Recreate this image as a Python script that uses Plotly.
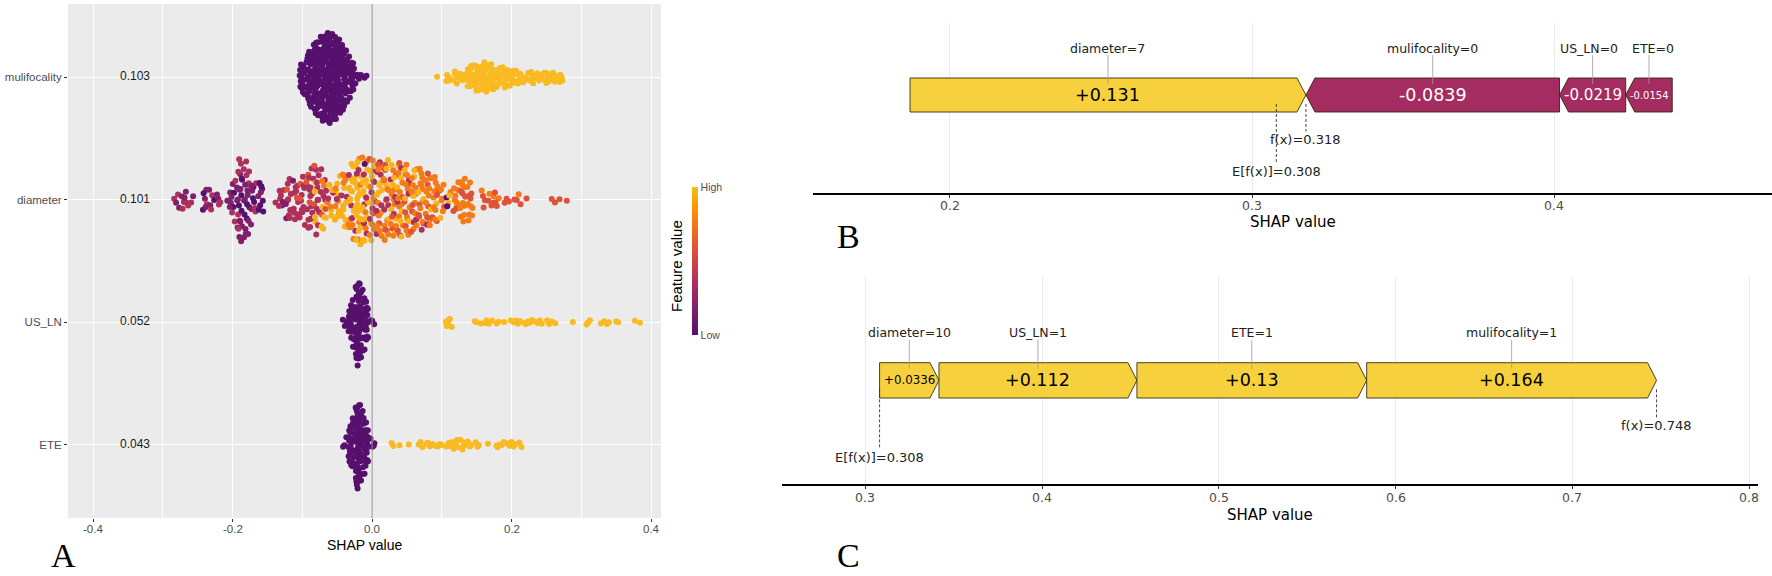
import numpy as np
import plotly.graph_objects as go

# ------------------------------------------------------------------
# DATA
# ------------------------------------------------------------------
# Panel A : SHAP summary (beeswarm).  Each feature is given as a histogram
# of SHAP values (bin centre, number of points).
FEATURES = ["mulifocality", "diameter", "US_LN", "ETE"]
MEAN_ABS_SHAP = [0.103, 0.101, 0.052, 0.043]
A_XTICKS = [-0.4, -0.2, 0.0, 0.2, 0.4]
A_XTICKTEXT = ["-0.4", "-0.2", "0.0", "0.2", "0.4"]
A_XMINOR = [-0.3, -0.1, 0.1, 0.3]

# mulifocality (binary): low = 0, high = 1
MULI_LOW_X = [-0.10, -0.09, -0.08, -0.07, -0.06, -0.05, -0.04, -0.03, -0.02, -0.01]
MULI_LOW_N = [16, 30, 40, 48, 50, 46, 34, 20, 5, 2]
MULI_HIGH_X = [0.09, 0.11, 0.12, 0.13, 0.14, 0.15, 0.16, 0.17, 0.18, 0.19,
               0.20, 0.21, 0.22, 0.23, 0.24, 0.25, 0.26, 0.27]
MULI_HIGH_N = [1, 5, 7, 5, 12, 16, 17, 15, 11, 11, 10, 8, 4, 7, 6, 7, 6, 5]

# diameter (continuous): counts per bin split by feature-value level
DIAM_X = [-0.28, -0.27, -0.26, -0.24, -0.23, -0.22, -0.21, -0.20, -0.19, -0.18,
          -0.17, -0.16, -0.14, -0.13, -0.12, -0.11, -0.10, -0.09, -0.08, -0.07,
          -0.06, -0.05, -0.04, -0.03, -0.02, -0.01, 0.00, 0.01, 0.02, 0.03,
          0.04, 0.05, 0.06, 0.07, 0.08, 0.09, 0.10, 0.11, 0.12, 0.13,
          0.14, 0.16, 0.17, 0.18, 0.19, 0.20, 0.21, 0.22, 0.26, 0.27, 0.28]
DIAM_N_PURPLE = [0, 0, 0, 2, 1, 0, 0, 2, 5, 5, 3, 7, 0, 0, 0, 0, 0, 0, 0, 0,
                 0, 0, 0, 0, 0, 1, 0, 0, 0, 0, 0, 0, 0, 0, 0, 0, 0, 2, 0, 0,
                 0, 0, 0, 0, 0, 0, 0, 0, 0, 0, 0]
DIAM_N_VIOLET = [2, 3, 1, 3, 2, 2, 1, 5, 12, 10, 4, 2, 0, 2, 2, 1, 0, 1, 0, 0,
                 0, 0, 0, 0, 0, 0, 0, 0, 0, 0, 0, 0, 0, 0, 0, 0, 0, 0, 0, 0,
                 0, 0, 0, 0, 0, 0, 0, 0, 0, 0, 0]
DIAM_N_CRIMSON = [2, 3, 2, 1, 2, 2, 0, 3, 5, 5, 3, 0, 1, 5, 8, 9, 10, 13, 12, 6,
                  2, 2, 2, 3, 3, 5, 6, 6, 4, 3, 3, 3, 2, 2, 1, 0, 0, 0, 0, 0,
                  0, 0, 0, 0, 0, 0, 0, 0, 0, 0, 0]
DIAM_N_RED = [0, 0, 0, 0, 0, 0, 0, 0, 0, 0, 0, 0, 0, 0, 1, 1, 2, 3, 2, 2,
              0, 0, 0, 0, 0, 0, 2, 2, 3, 3, 3, 3, 3, 3, 4, 3, 2, 0, 2, 3,
              3, 3, 3, 3, 2, 2, 2, 1, 2, 1, 1]
DIAM_N_ORANGE = [0, 0, 0, 0, 0, 0, 0, 0, 0, 0, 0, 0, 0, 0, 0, 0, 0, 0, 0, 2,
                 2, 3, 4, 5, 4, 4, 8, 8, 9, 8, 8, 9, 10, 9, 9, 9, 6, 1, 7, 10,
                 8, 1, 2, 1, 0, 0, 1, 0, 0, 0, 0]
DIAM_N_YELLOW = [0, 0, 0, 0, 0, 0, 0, 0, 0, 0, 0, 0, 0, 0, 0, 0, 0, 0, 4, 5,
                 4, 7, 9, 11, 17, 12, 6, 5, 5, 6, 6, 4, 3, 2, 1, 1, 1, 2, 0, 0,
                 0, 0, 0, 0, 0, 0, 0, 0, 0, 0, 0]
DIAM_LEVELS = [0.0, 0.17, 0.36, 0.58, 0.76, 0.97]   # feature value (0=Low, 1=High)

# US_LN (binary)
USLN_LOW_X = [-0.04, -0.03, -0.02, -0.01, 0.00]
USLN_LOW_N = [3, 20, 50, 28, 3]
USLN_HIGH_X = [0.11, 0.15, 0.16, 0.17, 0.18, 0.19, 0.20, 0.21, 0.22, 0.23,
               0.24, 0.25, 0.26, 0.29, 0.31, 0.33, 0.34, 0.35, 0.38]
USLN_HIGH_N = [6, 2, 3, 2, 2, 1, 2, 3, 3, 3, 3, 2, 2, 1, 3, 2, 2, 2, 2]

# ETE (binary)
ETE_LOW_X = [-0.04, -0.03, -0.02, -0.01, 0.00]
ETE_LOW_N = [3, 26, 50, 30, 4]
ETE_HIGH_X = [0.03, 0.04, 0.05, 0.07, 0.08, 0.09, 0.10, 0.11, 0.12, 0.13,
              0.14, 0.15, 0.17, 0.18, 0.19, 0.20, 0.21]
ETE_HIGH_N = [2, 1, 1, 3, 3, 3, 2, 4, 5, 6, 4, 3, 1, 3, 3, 4, 3]

# Panel B : force plot, single observation
B_FEATURES = ["diameter=7", "mulifocality=0", "US_LN=0", "ETE=0"]
B_SHAP = [0.131, -0.0839, -0.0219, -0.0154]
B_BASELINE = 0.308
B_XTICKS = [0.2, 0.3, 0.4]

# Panel C : force plot, single observation
C_FEATURES = ["diameter=10", "US_LN=1", "ETE=1", "mulifocality=1"]
C_SHAP = [0.0336, 0.112, 0.13, 0.164]
C_BASELINE = 0.308
C_XTICKS = [0.3, 0.4, 0.5, 0.6, 0.7, 0.8]

# ------------------------------------------------------------------
# STYLE / LAYOUT
# ------------------------------------------------------------------
W, H = 1772, 576
FONT_A = "Liberation Sans"
FONT_BC = "DejaVu Sans"
SERIF = "Liberation Serif"
INFERNO = [[0.0, "#57106E"], [0.0833, "#6A176E"], [0.1667, "#7F1F6C"],
           [0.25, "#932667"], [0.3333, "#A82E5F"], [0.4167, "#BC3754"],
           [0.5, "#CF4446"], [0.5833, "#DF5337"], [0.6667, "#EA632A"],
           [0.75, "#F37819"], [0.8333, "#F98E09"], [0.9167, "#FCA50A"],
           [1.0, "#F9BA22"]]
POS_FILL = "#F7D13D"
NEG_FILL = "#A52C60"
TICK_GREY = "#4D4D4D"
LETTER_SIZE = 34

A_GEOM = dict(left=68, right=661, top=4, bottom=518, xmin=-0.436, xmax=0.414,
              tick_y=529, title_y=545, letter_y=555.5)
B_GEOM = dict(left=813, right=1772, top=23, axis=193, bar_top=78, bar_bot=112,
              xmin=0.1547, xmax=0.472, tick_y=205, title_y=222, letter_y=237)
C_GEOM = dict(left=781.5, right=1758, top=277, axis=484, bar_top=362.7, bar_bot=398,
              xmin=0.2525, xmax=0.805, tick_y=497, title_y=515, letter_y=555.5)


def px_x(p):
    return p / W


def px_y(p):
    return 1 - p / H


def note(**kw):
    kw.setdefault("showarrow", False)
    kw.setdefault("xanchor", "center")
    kw.setdefault("yanchor", "middle")
    fig.add_annotation(**kw)


def vdc(n, base):
    v, denom = 0.0, 1.0
    while n:
        n, r = divmod(n, base)
        denom *= base
        v += r / denom
    return v


def interleave(groups):
    items = []
    for gi, (v, n) in enumerate(groups):
        for j in range(n):
            items.append(((j + 0.5) / n, gi, v))
    items.sort()
    return [it[2] for it in items]


def swarm(row, entries, seed, width=0.38, spread=0.0042):
    """entries: list of (bin centre, count, feature value). Quasi-random
    beeswarm layout: vertical spread proportional to local point density."""
    bins = {}
    for x, n, v in entries:
        if n > 0:
            bins.setdefault(x, []).append((v, n))
    ux = sorted(bins)
    tot = np.array([sum(n for _, n in bins[x]) for x in ux], float)
    hh = width * tot / tot.max()
    xs, ys, cs = [], [], []
    for b, x in enumerate(ux):
        cols = interleave(bins[x])
        for k, c in enumerate(cols):
            i = k + 1 + 13 * b + seed
            xo = x + spread * (2 * vdc(i, 3) - 1)
            h = float(np.interp(xo, ux, hh))
            xs.append(xo)
            ys.append(row + h * (2 * vdc(i, 2) - 1))
            cs.append(c)
    return xs, ys, cs


def binary_entries(lx, ln, hx, hn):
    return [(x, n, 0.0) for x, n in zip(lx, ln)] + [(x, n, 1.0) for x, n in zip(hx, hn)]


diam_entries = []
for i, x in enumerate(DIAM_X):
    for lvl, arr in zip(DIAM_LEVELS, [DIAM_N_PURPLE, DIAM_N_VIOLET, DIAM_N_CRIMSON,
                                      DIAM_N_RED, DIAM_N_ORANGE, DIAM_N_YELLOW]):
        diam_entries.append((x, arr[i], lvl))

rows = {f: len(FEATURES) - i for i, f in enumerate(FEATURES)}
feature_entries = {
    "mulifocality": binary_entries(MULI_LOW_X, MULI_LOW_N, MULI_HIGH_X, MULI_HIGH_N),
    "diameter": diam_entries,
    "US_LN": binary_entries(USLN_LOW_X, USLN_LOW_N, USLN_HIGH_X, USLN_HIGH_N),
    "ETE": binary_entries(ETE_LOW_X, ETE_LOW_N, ETE_HIGH_X, ETE_HIGH_N),
}

PX, PY, PC = [], [], []
for fi, f in enumerate(FEATURES):
    xs, ys, cs = swarm(rows[f], feature_entries[f], seed=fi * 7)
    PX += xs
    PY += ys
    PC += cs

fig = go.Figure()

# ---------------- Panel A ----------------
fig.add_shape(type="rect", xref="x domain", yref="y domain", x0=0, x1=1, y0=0, y1=1,
              fillcolor="#EBEBEB", line=dict(width=0), layer="below")

fig.add_trace(go.Scatter(
    x=PX, y=PY, mode="markers", xaxis="x", yaxis="y", hoverinfo="skip",
    marker=dict(size=6, color=PC, colorscale=INFERNO, cmin=0, cmax=1,
                line=dict(width=0), showscale=True,
                colorbar=dict(x=px_x(692), xanchor="left", xref="paper",
                              y=px_y(261), yanchor="middle", yref="paper",
                              len=148 / H, lenmode="fraction", thickness=5.5,
                              outlinewidth=0, tickvals=[0, 1], ticktext=["Low", "High"],
                              ticks="", tickfont=dict(family=FONT_A, size=10.5, color=TICK_GREY),
                              xpad=0, ypad=0, title=dict(text=""))),
    showlegend=False))

fig.add_trace(go.Scatter(
    x=[-0.34] * len(FEATURES), y=[rows[f] for f in FEATURES], mode="text",
    text=[f"{v:.3f}" for v in MEAN_ABS_SHAP], xaxis="x", yaxis="y",
    textfont=dict(family=FONT_A, size=12, color="#1A1A1A"), hoverinfo="skip",
    showlegend=False))

fig.add_shape(type="line", xref="x", yref="y domain", x0=0, x1=0, y0=0, y1=1,
              line=dict(color="#8F8F8F", width=1), layer="above")

for t, tt in zip(A_XTICKS, A_XTICKTEXT):
    note(x=t, y=px_y(A_GEOM["tick_y"]), xref="x", yref="paper", text=tt,
         font=dict(family=FONT_A, size=11.5, color=TICK_GREY))
note(x=px_x((A_GEOM["left"] + A_GEOM["right"]) / 2), y=px_y(A_GEOM["title_y"]),
     xref="paper", yref="paper", text="SHAP value",
     font=dict(family=FONT_A, size=14, color="black"))
note(x=px_x(676), y=px_y(266), xref="paper", yref="paper",
     text="Feature value", textangle=-90,
     font=dict(family=FONT_A, size=15, color="black"))
note(x=px_x(63.5), y=px_y(A_GEOM["letter_y"]), xref="paper", yref="paper", text="A",
     font=dict(family=SERIF, size=LETTER_SIZE, color="black"))

# ---------------- Force panels ----------------
EM = {"0": .636, "1": .636, "2": .636, "3": .636, "4": .636, "5": .636, "6": .636,
      "7": .636, "8": .636, "9": .636, ".": .318, "+": .838, "-": .361, "=": .838,
      "_": .5, "m": .974, "i": .278, "l": .278, "f": .352, "t": .392, "r": .411,
      "y": .592, "E": .632, "T": .611, "U": .732, "S": .635, "L": .557, "N": .748}


def text_em(s):
    return sum(EM.get(ch, 0.62) for ch in s)


def add_force(feats, shap, base, g, xa, ya, ticks, letter):
    ppu = (g["right"] - g["left"]) / (g["xmax"] - g["xmin"])
    tip = 9 / ppu
    fx = base + sum(shap)
    top, bot = -g["bar_top"], -g["bar_bot"]
    mid = (top + bot) / 2
    pos = [(f, s) for f, s in zip(feats, shap) if s > 0]
    neg = [(f, s) for f, s in zip(feats, shap) if s < 0]
    segs = []
    x = fx - sum(s for _, s in pos)
    for f, s in pos:
        segs.append((f, s, x, x + s))
        x += s
    x = fx
    for f, s in neg:
        segs.append((f, s, x, x - s))
        x -= s

    for f, s, a, b in segs:
        if s > 0:
            xs = [a, b - tip, b, b - tip, a, a]
            ys = [top, top, mid, bot, bot, top]
            fill, tc = POS_FILL, "black"
        else:
            xs = [a, a + tip, b, b, a + tip, a]
            ys = [mid, top, top, bot, bot, mid]
            fill, tc = NEG_FILL, "white"
        fig.add_trace(go.Scatter(x=xs, y=ys, fill="toself", fillcolor=fill, mode="lines",
                                 line=dict(color="rgba(45,35,0,0.85)", width=1),
                                 xaxis=xa, yaxis=ya, hoverinfo="skip", showlegend=False))
        txt = f"{s:+.3g}"
        size = min(17.5, ((b - a) * ppu - 8) / text_em(txt))
        note(x=(a + b) / 2, y=mid, xref=xa, yref=ya, text=txt,
             font=dict(family=FONT_BC, size=size, color=tc))

    # feature labels with simple horizontal repel
    lab_size = 12.5
    centres = [(a + b) / 2 for _, _, a, b in segs]
    labx = [g["left"] + (c - g["xmin"]) * ppu for c in centres]
    widths = [text_em(f) * lab_size for f, _, _, _ in segs]
    order = sorted(range(len(segs)), key=lambda i: labx[i])
    for _ in range(60):
        for j in range(len(order) - 1):
            i1, i2 = order[j], order[j + 1]
            overlap = (labx[i1] + widths[i1] / 2 + 14) - (labx[i2] - widths[i2] / 2)
            if overlap > 0:
                labx[i1] -= overlap / 2
                labx[i2] += overlap / 2
    lab_y = g["bar_top"] - 30
    for k, (f, s, a, b) in enumerate(segs):
        fig.add_trace(go.Scatter(x=[centres[k], centres[k]], y=[-(lab_y + 7), -(g["bar_top"] + 6)],
                                 mode="lines", line=dict(color="#9A9A9A", width=0.8),
                                 xaxis=xa, yaxis=ya, hoverinfo="skip", showlegend=False))
        note(x=g["xmin"] + (labx[k] - g["left"]) / ppu, y=-lab_y, xref=xa, yref=ya, text=f,
             font=dict(family=FONT_BC, size=lab_size, color="#222222"))

    # f(x) and E[f(x)] markers
    for val, txt, off in [(fx, f"f(x)={fx:.3g}", 27.5), (base, f"E[f(x)]={base:.3g}", 59)]:
        ly = g["bar_bot"] + off
        fig.add_trace(go.Scatter(x=[val, val], y=[-(g["bar_top"] + g["bar_bot"]) / 2 - 9, -(ly - 8)],
                                 mode="lines", line=dict(color="#333333", width=0.9, dash="3px,2px"),
                                 xaxis=xa, yaxis=ya, hoverinfo="skip", showlegend=False))
        note(x=val, y=-ly, xref=xa, yref=ya, text=txt,
             font=dict(family=FONT_BC, size=13, color="#222222"))

    for t in ticks:
        note(x=t, y=px_y(g["tick_y"]), xref=xa, yref="paper", text=f"{t:.1f}",
             font=dict(family=FONT_BC, size=12.5, color=TICK_GREY))
    note(x=px_x((g["left"] + g["right"]) / 2), y=px_y(g["title_y"]),
         xref="paper", yref="paper", text="SHAP value",
         font=dict(family=FONT_BC, size=15, color="black"))
    note(x=px_x(848), y=px_y(g["letter_y"]), xref="paper", yref="paper", text=letter,
         font=dict(family=SERIF, size=LETTER_SIZE, color="black"))


add_force(B_FEATURES, B_SHAP, B_BASELINE, B_GEOM, "x2", "y2", B_XTICKS, "B")
add_force(C_FEATURES, C_SHAP, C_BASELINE, C_GEOM, "x3", "y3", C_XTICKS, "C")


def force_xaxis(g, ticks, anchor):
    return dict(domain=[px_x(g["left"]), px_x(g["right"])], range=[g["xmin"], g["xmax"]],
                anchor=anchor, tickvals=ticks, showticklabels=False,
                ticks="outside", ticklen=3, tickcolor="#333333", tickwidth=1,
                showline=True, linecolor="black", linewidth=2,
                showgrid=True, gridcolor="#EBEBEB", gridwidth=0.8, zeroline=False)


def force_yaxis(g, anchor):
    return dict(domain=[px_y(g["axis"]), px_y(g["top"])], range=[-g["axis"], -g["top"]],
                anchor=anchor, visible=False, showgrid=False, zeroline=False)


fig.update_layout(
    width=W, height=H, margin=dict(l=0, r=0, t=0, b=0),
    paper_bgcolor="white", plot_bgcolor="white", showlegend=False,
    xaxis=dict(domain=[px_x(A_GEOM["left"]), px_x(A_GEOM["right"])],
               range=[A_GEOM["xmin"], A_GEOM["xmax"]], anchor="y",
               tickvals=A_XTICKS, showticklabels=False,
               ticks="outside", ticklen=3, tickcolor="#333333", tickwidth=1,
               showgrid=True, gridcolor="white", gridwidth=1.1,
               minor=dict(tickvals=A_XMINOR, showgrid=True, gridcolor="white", gridwidth=0.55),
               zeroline=False, showline=False),
    yaxis=dict(domain=[px_y(A_GEOM["bottom"]), px_y(A_GEOM["top"])], range=[0.4, 4.6],
               anchor="x", tickvals=[rows[f] for f in FEATURES], ticktext=FEATURES,
               tickfont=dict(family=FONT_A, size=11.5, color=TICK_GREY),
               ticks="outside", ticklen=3, tickcolor="#333333", tickwidth=1,
               showgrid=True, gridcolor="white", gridwidth=1.1, zeroline=False, showline=False),
    xaxis2=force_xaxis(B_GEOM, B_XTICKS, "y2"),
    yaxis2=force_yaxis(B_GEOM, "x2"),
    xaxis3=force_xaxis(C_GEOM, C_XTICKS, "y3"),
    yaxis3=force_yaxis(C_GEOM, "x3"),
)

fig.write_html("out.html", config={"displayModeBar": False},
               post_script="document.body.style.margin='0';document.body.style.overflow='hidden';")
